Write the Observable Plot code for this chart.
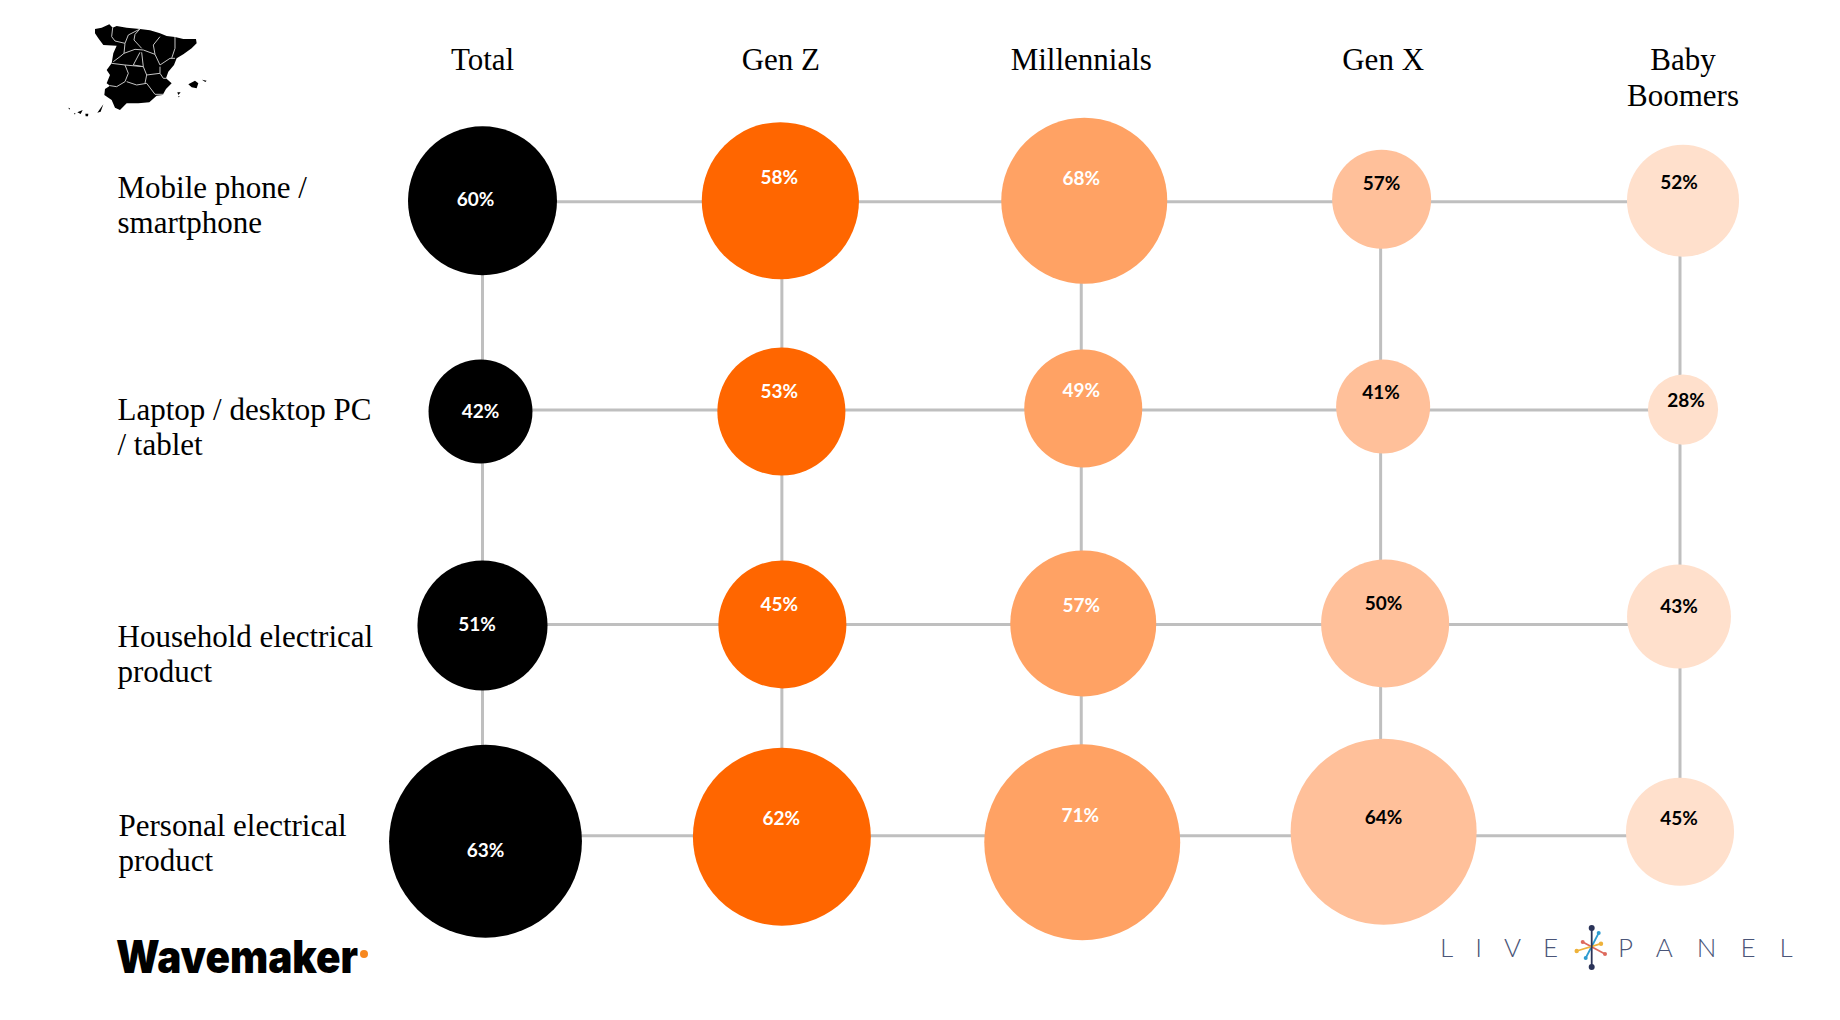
<!DOCTYPE html>
<html>
<head>
<meta charset="utf-8">
<script src="https://cdn.jsdelivr.net/npm/d3@7"></script>
<script src="https://cdn.jsdelivr.net/npm/@observablehq/plot@0.6"></script>
<style>
html,body{margin:0;padding:0;background:#fff;}
svg{display:block;}
</style>
</head>
<body>
<div id="chart"></div>
<script>
// ---- data ----
const generations = ["Total", "Gen Z", "Millennials", "Gen X", "Baby Boomers"];
const generationLabels = ["Total", "Gen Z", "Millennials", "Gen X", "Baby\nBoomers"];
const devices = ["Mobile phone / smartphone", "Laptop / desktop PC / tablet", "Household electrical product", "Personal electrical product"];
const deviceLabels = ["Mobile phone /\nsmartphone", "Laptop / desktop PC\n/ tablet", "Household electrical\nproduct", "Personal electrical\nproduct"];

const shareTotal = [60, 42, 51, 63];
const shareGenZ = [58, 53, 45, 62];
const shareMillennials = [68, 49, 57, 71];
const shareGenX = [57, 41, 50, 64];
const shareBoomers = [52, 28, 43, 45];

// bubble area as drawn (the picture's bubbles are not proportional to the shares), relative index
const areaTotal = [55.5, 27, 42.3, 93];
const areaGenZ = [61.8, 41, 41, 79.2];
const areaMillennials = [68.9, 34.8, 53.3, 96];
const areaGenX = [24.5, 22.1, 41, 86.5];
const areaBoomers = [31.4, 12.3, 27, 29.2];

const shares = [shareTotal, shareGenZ, shareMillennials, shareGenX, shareBoomers];
const areas = [areaTotal, areaGenZ, areaMillennials, areaGenX, areaBoomers];

// ---- styling and hand-placement of the original slide (pixel nudges off the grid) ----
const bubbleColors = ["#000000", "#FF6600", "#FFA264", "#FFC09A", "#FFE0CC"];
const labelInk = ["#ffffff", "#ffffff", "#ffffff", "#000000", "#000000"];
const bubbleNudge = [
  [[0,-1],[-2,-1.5],[0,1],[3,5.5]],
  [[-1.5,-1],[-.5,-1.5],[.5,0],[0,1]],
  [[3,-1],[2,-4.5],[2,-1],[1,6.5]],
  [[1,-2.5],[2.5,-6.5],[4.5,-1],[3,-4]],
  [[3,-1],[3,-3.5],[-1,-8],[0,-4]]
];
const labelNudge = [
  [[-7,-1.5],[-2,-1.5],[-5.5,0],[3,15.5]],
  [[-2.5,-24],[-2.5,-21.5],[-2.5,-20],[-.5,-16.5]],
  [[0,-23],[0,-22.5],[0,-18.5],[-1,-19.5]],
  [[1,-18],[.5,-20.5],[3,-21],[3,-17.5]],
  [[-1,-19],[6,-12.5],[-1,-17.5],[-1,-16.5]]
];
const headerNudge = [0, -1, 0, 2.5, 3];
const rowLabelNudge = [[0,2.7],[0,12.9],[0,29],[1,6.2]];
const rowRuleNudge = [0, -3.1, 0, 0];
const serif = "'Liberation Serif', serif";

const cells = generations.flatMap((g, i) => devices.map((d, j) => ({
  generation: g, device: d, share: shares[i][j], area: areas[i][j], ink: labelInk[i],
  bubble: bubbleNudge[i][j], label: labelNudge[i][j]
})));

// decorations: map silhouette and the two logos
function decorations() {
  const g = d3.create("svg:g");
  g.attr("text-anchor", "start");
  g.html(`
  <g transform="translate(60,15) scale(0.3333)">
    <path fill="#000" d="M105,42L125,38L148,28L158,38L170,33L200,38L240,42L270,46L300,55L320,63L345,66L370,72L408,72L410,85L395,100L370,118L350,130L342,150L325,170L318,190L335,205L318,222L308,240L290,242L268,262L235,265L200,265L180,285L165,278L155,255L133,240L135,222L150,212L140,205L150,180L140,165L155,145L160,115L170,92L130,90L115,70L105,55Z
      M385,208L405,197L415,205L410,220L395,217Z M426,194L440,197L436,201Z M352,232L362,232L355,240Z M354,243L360,245L356,247Z
      M25,278L30,280L28,284Z M42,295L46,294L45,299Z M52,292L68,285L62,297Z M76,296L85,296L84,304L77,304Z M112,293L130,268L122,290Z"/>
    <path fill="none" stroke="#c4c4c4" stroke-width="3" stroke-linejoin="round" d="M158,38L155,65L165,78L195,85M195,85L205,60L240,42M240,42L225,58L222,75L245,100M195,85L192,115L180,125L160,140M192,115L225,103L250,105L285,118L280,90L300,65M345,66L345,100L335,130M285,118L300,150L330,130L345,130M240,112L220,150L250,155L245,112M155,145L195,150L205,175L195,200L170,215L150,212M195,150L250,155L260,180L300,175L300,155M200,200L230,210L260,205L285,238L310,238M300,175L310,190L318,190M260,180L255,205"/>
  </g>
  <text x="116" y="973" font-family="Inter, Roboto, sans-serif" font-weight="900" font-size="45" textLength="242" lengthAdjust="spacingAndGlyphs" fill="#000">Wavemaker</text>
  <circle cx="364" cy="954" r="4" fill="#F7881F"/>
  <g font-family="Lato, sans-serif" font-weight="300" font-size="26" fill="#4a5578">
    <text x="1440" y="957" letter-spacing="22">LIVE</text>
    <text x="1618" y="957" letter-spacing="24">PANEL</text>
  </g>
  <g stroke-width="1.8" fill="none">
    <line x1="1585.7" y1="958" x2="1598.7" y2="933" stroke="#2e9bd0"/>
    <line x1="1582.7" y1="942" x2="1605" y2="954" stroke="#dd6a5d"/>
    <line x1="1576.7" y1="951" x2="1601" y2="943.7" stroke="#eeb23a"/>
    <line x1="1591.7" y1="928" x2="1591.7" y2="967" stroke="#2a3358"/>
  </g>
  <circle cx="1591.7" cy="928" r="3" fill="#2a3358"/><circle cx="1591.7" cy="967" r="3" fill="#2a3358"/>
  <circle cx="1585.7" cy="958" r="2" fill="#2e9bd0"/><circle cx="1598.7" cy="933" r="2" fill="#2e9bd0"/>
  <circle cx="1582.7" cy="942" r="2" fill="#dd6a5d"/><circle cx="1605" cy="954" r="2" fill="#dd6a5d"/>
  <circle cx="1576.7" cy="951" r="2.2" fill="#eeb23a"/><circle cx="1601" cy="943.7" r="2.2" fill="#eeb23a"/>
  `);
  return g.node();
}

const chart = Plot.plot({
  width: 1840,
  height: 1020,
  marginTop: 44.5,
  marginLeft: 117,
  marginRight: 0,
  marginBottom: 0,
  style: {background: "#fff"},
  x: {type: "point", domain: generations, range: [482, 1679.5], padding: 0, round: false},
  y: {type: "point", domain: devices, range: [201.25, 835.25], padding: 0, round: false, axis: null},
  r: {type: "sqrt", domain: [0, 100], range: [0, 100]},
  color: {type: "ordinal", domain: generations, range: bubbleColors},
  marks: [
    Plot.ruleX(generations, {x: d => d, y1: () => devices[0], y2: () => devices[3], stroke: "#BFBFBF", strokeWidth: 3}),
    ...devices.map((d, j) => Plot.ruleY([d], {y: v => v, x1: () => generations[0], x2: () => generations[4], stroke: "#BFBFBF", strokeWidth: 3, dy: rowRuleNudge[j]})),
    ...cells.map(c => Plot.dot([c], {x: "generation", y: "device", r: "area", fill: "generation", dx: c.bubble[0], dy: c.bubble[1]})),
    ...cells.map(c => Plot.text([c], {x: "generation", y: "device", text: v => v.share + "%", fill: c.ink, fontFamily: "Lato, sans-serif", fontWeight: 700, fontSize: 19, dx: c.label[0], dy: c.label[1]})),
    ...generations.map((g, i) => Plot.axisX([g], {
      anchor: "top", label: null, tickSize: 0, tickPadding: 0, lineAnchor: "top", lineHeight: 1.15,
      tickFormat: () => generationLabels[i], fontFamily: serif, fontSize: 31, fill: "#000", dx: headerNudge[i]
    })),
    ...devices.map((d, j) => Plot.axisY([d], {
      anchor: "left", label: null, tickSize: 0, tickPadding: 0, textAnchor: "start", lineHeight: 1.14,
      tickFormat: () => deviceLabels[j], fontFamily: serif, fontSize: 31, fill: "#000", dx: rowLabelNudge[j][0], dy: rowLabelNudge[j][1]
    })),
    decorations
  ]
});
document.getElementById("chart").append(chart);
</script>
</body>
</html>
